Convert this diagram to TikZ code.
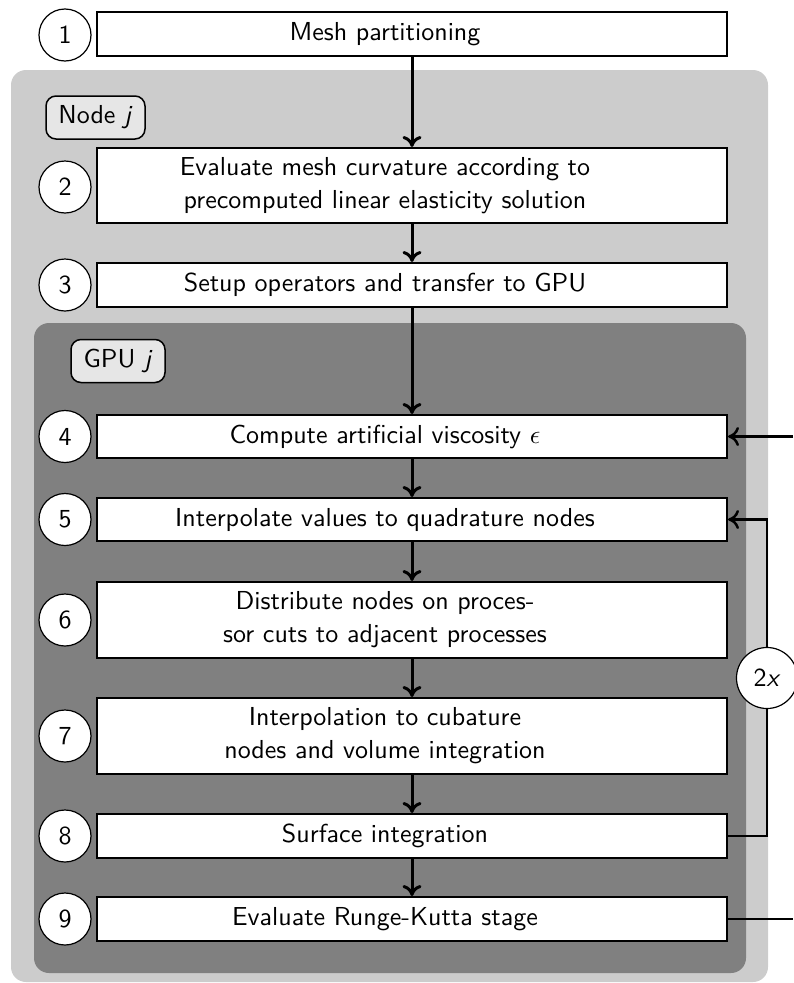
\documentclass[tikz,border=0pt]{standalone}
\usetikzlibrary{arrows.meta}
\definecolor{lg}{HTML}{CCCCCC}
\definecolor{dg}{HTML}{808080}
\definecolor{lblfill}{HTML}{E6E6E6}
\newcommand{\bigtxt}[1]{\scalebox{2.6}{\sffamily #1}}
\begin{document}
\begin{tikzpicture}[x=1pt,y=1pt,
  box/.style={draw, fill=white, line width=2pt, minimum width=630pt, inner sep=0pt},
  txt/.style={font=\sffamily\fontsize{10}{12.7}\selectfont, align=center, scale=2.6, transform shape, inner sep=0pt},
  num/.style={circle, draw, fill=white, line width=1.2pt, minimum size=52pt, inner sep=0pt},
  lbl/.style={draw, fill=lblfill, rounded corners=10pt, line width=1.5pt, minimum height=43pt, inner sep=0pt},
  arr/.style={line width=3pt, -{Computer Modern Rightarrow[length=11pt,width=19pt]}},
  arrside/.style={line width=2.5pt, -{Computer Modern Rightarrow[length=11pt,width=19pt]}},
  ln/.style={line width=2.5pt}
]
\useasboundingbox (0,0) rectangle (793,-983);
% containers
\fill[lg, rounded corners=15pt] (11,-70) rectangle (768,-982);
\fill[dg, rounded corners=15pt] (34,-323) rectangle (746,-973);
% labels
\node[lbl, minimum width=99pt] (nodej) at (95.5,-117.5) {\bigtxt{Node \textsl{j}}};
\node[lbl, minimum width=94pt] (gpuj) at (118,-361) {\bigtxt{GPU \textsl{j}}};
% boxes
\node[box, minimum height=44pt] (b1) at (412,-34) {};
\node[box, minimum height=75pt] (b2) at (412,-185.5) {};
\node[box, minimum height=44pt] (b3) at (412,-285) {};
\node[box, minimum height=43pt] (b4) at (412,-436.5) {};
\node[box, minimum height=43pt] (b5) at (412,-519.5) {};
\node[box, minimum height=76pt] (b6) at (412,-620) {};
\node[box, minimum height=76pt] (b7) at (412,-736) {};
\node[box, minimum height=44pt] (b8) at (412,-836) {};
\node[box, minimum height=44pt] (b9) at (412,-919) {};
% texts
\node[txt] (t1) at (385,-34) {Mesh partitioning};
\node[txt] (t2) at (385,-185.5) {Evaluate mesh curvature according to\\precomputed linear elasticity solution};
\node[txt] (t3) at (385,-285) {Setup operators and transfer to GPU};
\node[txt] (t4) at (385,-436.5) {Compute artificial viscosity $\epsilon$};
\node[txt] (t5) at (385,-519.5) {Interpolate values to quadrature nodes};
\node[txt] (t6) at (385,-620) {Distribute nodes on proces-\\sor cuts to adjacent processes};
\node[txt] (t7) at (385,-736) {Interpolation to cubature\\nodes and volume integration};
\node[txt] (t8) at (385,-836) {Surface integration};
\node[txt] (t9) at (385,-919) {Evaluate Runge-Kutta stage};
% numbers
\node[num] (c1) at (65,-35) {\bigtxt{1}};
\node[num] (c2) at (65,-187) {\bigtxt{2}};
\node[num] (c3) at (65,-285) {\bigtxt{3}};
\node[num] (c4) at (65,-436.5) {\bigtxt{4}};
\node[num] (c5) at (65,-519.5) {\bigtxt{5}};
\node[num] (c6) at (65,-620) {\bigtxt{6}};
\node[num] (c7) at (65,-736) {\bigtxt{7}};
\node[num] (c8) at (65,-836) {\bigtxt{8}};
\node[num] (c9) at (65,-919) {\bigtxt{9}};
% vertical arrows
\draw[arr] (b1.south) -- (b2.north);
\draw[arr] (b2.south) -- (b3.north);
\draw[arr] (b3.south) -- (b4.north);
\draw[arr] (b4.south) -- (b5.north);
\draw[arr] (b5.south) -- (b6.north);
\draw[arr] (b6.south) -- (b7.north);
\draw[arr] (b7.south) -- (b8.north);
\draw[arr] (b8.south) -- (b9.north);
% side connectors
\coordinate (in4) at (793,-436.5);
\coordinate (out9) at (793,-919);
\coordinate (lp) at (767,-678);
\draw[arrside] (in4) -- (b4.east);
\draw[ln] (b9.east) -- (out9);
\draw[arrside] (b8.east) -| (lp) |- (b5.east);
\node[num, minimum size=61pt] (two) at (lp) {\bigtxt{2\textsl{x}}};
\end{tikzpicture}
\end{document}
